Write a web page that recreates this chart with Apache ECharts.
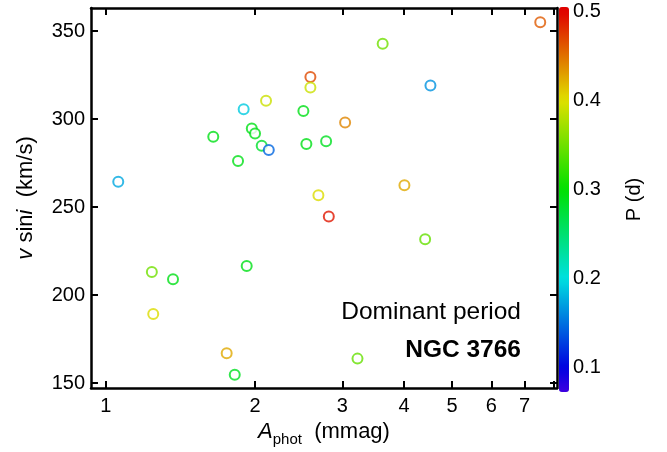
<!DOCTYPE html>
<html>
<head>
<meta charset="utf-8">
<script src="https://cdn.jsdelivr.net/npm/echarts@6/dist/echarts.min.js"></script>
<style>
  html, body { margin: 0; padding: 0; background: #fff; }
  #chart { width: 667px; height: 452px; }
</style>
</head>
<body>
<div id="chart"></div>
<script>
// 数据
const aPhot = [1.059, 1.647, 1.897, 2.105, 1.97, 2.0, 2.063, 2.132, 1.848, 2.504,
  2.587, 2.587, 2.539, 2.783, 2.685, 2.818, 7.53, 3.62, 4.52, 3.04,
  4.005, 1.238, 1.366, 1.246, 1.753, 1.82, 1.924, 4.41, 3.22];
const vsini = [264.4, 290, 305.7, 310.5, 294.7, 291.9, 284.9, 282.5, 276.2, 304.6,
  324, 318, 285.9, 287.4, 256.8, 244.7, 355.1, 342.9, 319.1, 298.1,
  262.5, 213.2, 209, 189.2, 166.9, 154.7, 216.6, 231.8, 163.9];
const period = [0.175, 0.29, 0.19, 0.39, 0.29, 0.29, 0.28, 0.145, 0.29, 0.29,
  0.467, 0.39, 0.29, 0.285, 0.40, 0.49, 0.46, 0.35, 0.165, 0.44,
  0.425, 0.35, 0.29, 0.40, 0.425, 0.285, 0.29, 0.345, 0.345];

const xTicks = [1, 2, 3, 4, 5, 6, 7, 8];
const xLabels = [1, 2, 3, 4, 5, 6, 7];
const yTicks = [150, 200, 250, 300, 350];
const pTicks = [0.1, 0.2, 0.3, 0.4, 0.5];

const pMin = 0.073, pMax = 0.5045;
const font = "Liberation Sans, Arial, Helvetica, sans-serif";

// rainbow colour map: red at 0.5 -> blue at 0.1
const rainbow = [];
for (let k = 0; k <= 60; k++) {
  const p = pMin + (pMax - pMin) * k / 60;
  let h = (0.5 - p) * 600;
  h = Math.max(0, Math.min(260, h));
  rainbow.push("hsl(" + h.toFixed(1) + ",100%,44%)");
}

const points = aPhot.map((a, i) => [a, vsini[i], period[i]]);

const chart = echarts.init(document.getElementById("chart"));

const axisLine = { lineStyle: { color: "#000", width: 2.5 } };
const tickStyle = { inside: true, length: 7, lineStyle: { color: "#000", width: 2 } };

const option = {
  animation: false,
  textStyle: { fontFamily: font },
  grid: [
    { left: 91, top: 8, right: 110, bottom: 60 },
    { left: 559, top: 7, width: 10, height: 385 },
  ],
  xAxis: [
    {
      type: "log",
      gridIndex: 0,
      min: 0.933,
      max: 8.14,
      name: "{it|A}{sub|phot}  (mmag)",
      nameLocation: "middle",
      nameGap: 29,
      nameTextStyle: {
        color: "#000",
        fontSize: 22,
        rich: {
          it: { fontStyle: "italic", fontSize: 22, lineHeight: 30, color: "#000" },
          sub: { fontSize: 15, verticalAlign: "bottom", lineHeight: 30, color: "#000" },
        },
      },
      axisLine: axisLine,
      axisTick: Object.assign({ customValues: xTicks }, tickStyle),
      axisLabel: {
        customValues: xLabels,
        color: "#000",
        fontSize: 20,
        margin: 8,
        formatter: (v) => String(Math.round(v)),
      },
      splitLine: { show: false },
      minorTick: { show: false },
    },
    {
      type: "log",
      gridIndex: 0,
      position: "top",
      min: 0.933,
      max: 8.14,
      axisLine: axisLine,
      axisTick: Object.assign({ customValues: xTicks }, tickStyle),
      axisLabel: { show: false },
      splitLine: { show: false },
    },
    {
      type: "value",
      gridIndex: 1,
      show: false,
      min: 0,
      max: 1,
    },
  ],
  yAxis: [
    {
      type: "value",
      gridIndex: 0,
      min: 147.2,
      max: 363.2,
      name: "{it|v} sin{it|i}  (km/s)",
      nameLocation: "middle",
      nameGap: 54,
      nameTextStyle: {
        color: "#000",
        fontSize: 22,
        rich: {
          it: { fontStyle: "italic", fontSize: 22, color: "#000" },
        },
      },
      axisLine: axisLine,
      axisTick: Object.assign({ customValues: yTicks }, tickStyle),
      axisLabel: { customValues: yTicks, color: "#000", fontSize: 20, margin: 6 },
      splitLine: { show: false },
    },
    {
      type: "value",
      gridIndex: 0,
      position: "right",
      min: 147.2,
      max: 363.2,
      axisLine: axisLine,
      axisTick: Object.assign({ customValues: yTicks }, tickStyle),
      axisLabel: { show: false },
      splitLine: { show: false },
    },
    {
      // 色标刻度
      type: "value",
      gridIndex: 1,
      position: "right",
      min: pMin,
      max: pMax,
      name: "P (d)",
      nameLocation: "middle",
      nameRotate: 90,
      nameGap: 55,
      nameTextStyle: { color: "#000", fontSize: 20 },
      axisLine: { show: false },
      axisTick: { show: false },
      axisLabel: {
        customValues: pTicks,
        color: "#000",
        fontSize: 20,
        margin: 4,
        formatter: (v) => v.toFixed(1),
      },
      splitLine: { show: false },
    },
  ],
  visualMap: {
    type: "continuous",
    min: pMin,
    max: pMax,
    dimension: 2,
    seriesIndex: 0,
    left: 559,
    top: 7,
    padding: 0,
    itemWidth: 10,
    itemHeight: 385,
    calculable: false,
    hoverLink: false,
    text: null,
    inRange: { color: rainbow },
  },
  graphic: [
    {
      type: "text",
      right: 667 - 521,
      top: 300,
      style: { text: "Dominant period", fontSize: 24.5, fill: "#000", fontFamily: font },
    },
    {
      type: "text",
      right: 667 - 521,
      top: 338,
      style: { text: "NGC 3766", fontSize: 24.5, fontWeight: "bold", fill: "#000", fontFamily: font },
    },
  ],
  series: [
    {
      type: "scatter",
      xAxisIndex: 0,
      yAxisIndex: 0,
      symbol: "emptyCircle",
      symbolSize: 10,
      itemStyle: { borderWidth: 2.2 },
      data: points,
    },
  ],
};
option && chart.setOption(option);
</script>
</body>
</html>
